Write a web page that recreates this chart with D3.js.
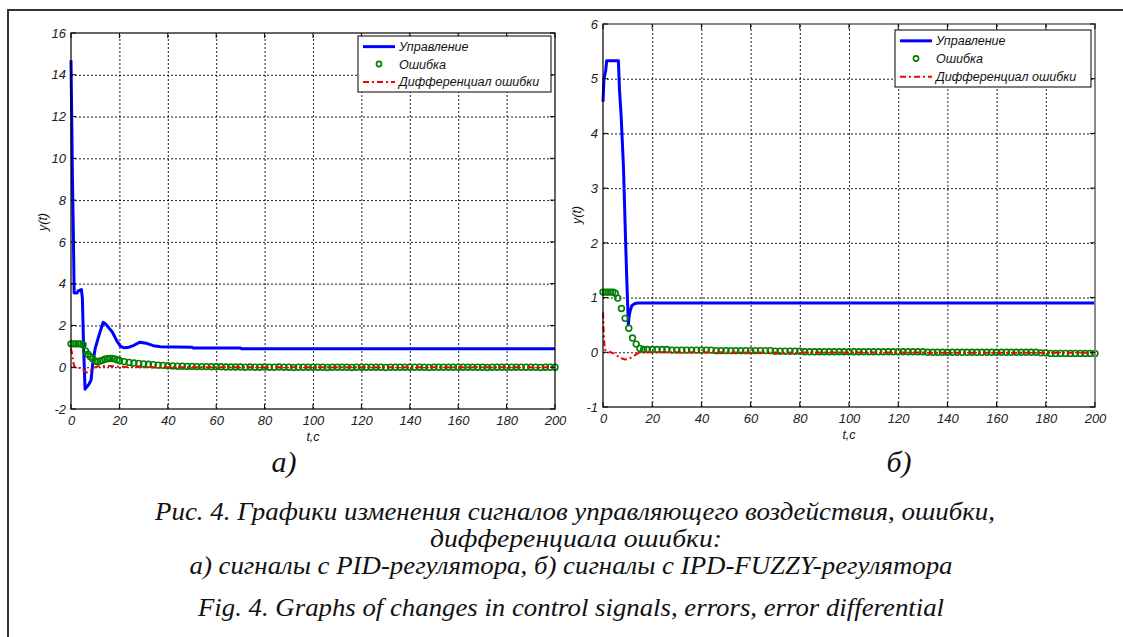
<!DOCTYPE html>
<html lang="ru">
<head>
<meta charset="UTF-8">
<title>Рис. 4</title>
<script src="https://d3js.org/d3.v7.min.js"></script>
<style>
  body { margin: 0; background: #fff; }
  svg { display: block; }
  .tick text { font-family: "Liberation Sans", Arial, sans-serif; font-style: italic; font-size: 13px; fill: #222; }
  .grid line { stroke: #000; stroke-width: 0.9; stroke-dasharray: 2,2; }
  .grid path { display: none; }
  .leg text, .ylab, .xlab { font-family: "Liberation Sans", Arial, sans-serif; font-style: italic; font-size: 12.5px; fill: #111; }
  .cap { font-family: "Liberation Serif", "Times New Roman", serif; font-style: italic; fill: #111; }
</style>
</head>
<body>
<script>
// ---- data ----
var xTicks = [0, 20, 40, 60, 80, 100, 120, 140, 160, 180, 200];
var pidYTicks = [-2, 0, 2, 4, 6, 8, 10, 12, 14, 16];
var fuzYTicks = [-1, 0, 1, 2, 3, 4, 5, 6];
var legendNames = ["Управление", "Ошибка", "Дифференциал ошибки"];

// а) PID
var pidCtrlT = [0, 0.3, 0.6, 1.0, 1.3, 2.5, 3, 4.3, 4.7, 5.2, 5.8, 6.5, 7.5, 8.3, 9, 10, 11.5, 13.3, 14.5, 15.5, 17, 19, 20.5, 22, 24, 26, 28.5, 31, 34, 37, 50, 50.5, 70, 70.5, 200];
var pidCtrl  = [14.7, 12, 9, 6.2, 3.55, 3.55, 3.65, 3.72, 3.3, 1.0, -1.05, -0.95, -0.8, -0.6, 0.2, 0.9, 1.5, 2.15, 2.05, 1.9, 1.7, 1.25, 1.0, 0.93, 0.96, 1.05, 1.2, 1.15, 1.03, 0.98, 0.96, 0.92, 0.92, 0.88, 0.88];

var pidErrT = [0, 1, 2, 3, 4, 5, 6, 7, 8, 9, 10, 11, 12, 13, 14, 15, 16, 17, 18, 19, 20,
  22, 24, 26, 28, 30, 32, 34, 36, 38, 40, 42, 44, 46, 48, 50, 52, 54, 56, 58, 60,
  62, 64, 66, 68, 70, 72, 74, 76, 78, 80, 82, 84, 86, 88, 90, 92, 94, 96, 98, 100,
  102, 104, 106, 108, 110, 112, 114, 116, 118, 120, 122, 124, 126, 128, 130, 132, 134, 136, 138, 140,
  142, 144, 146, 148, 150, 152, 154, 156, 158, 160, 162, 164, 166, 168, 170, 172, 174, 176, 178, 180,
  182, 184, 186, 188, 190, 192, 194, 196, 198, 200];
var pidErr = [1.12, 1.12, 1.12, 1.12, 1.12, 1.08, 0.78, 0.62, 0.5, 0.4, 0.3, 0.26, 0.3, 0.33, 0.38, 0.41, 0.42, 0.42, 0.4, 0.36, 0.32,
  0.27, 0.23, 0.2, 0.18, 0.16, 0.14, 0.12, 0.1, 0.09, 0.07, 0.06, 0.05, 0.05, 0.04, 0.04, 0.03, 0.03, 0.03, 0.02, 0.02,
  0.02, 0.01, 0.01, 0.01, 0.01, 0.0, 0.01, 0.0, 0.0, 0.01, 0.0, 0.0, 0.01, 0.0, 0.0, -0.01, 0.0, 0.0, 0.0, 0.0,
  0.0, 0.0, -0.01, 0.0, 0.0, 0.0, 0.0, -0.01, 0.0, 0.0, 0.0, 0.0, 0.0, 0.0, -0.01, 0.0, 0.0, 0.0, 0.0, 0.0,
  0.0, 0.0, 0.0, -0.01, 0.0, 0.0, 0.0, 0.0, 0.0, 0.0, 0.0, 0.0, 0.0, 0.0, 0.0, -0.01, 0.0, 0.0, 0.0, 0.0,
  0.0, 0.0, 0.0, 0.0, 0.0, 0.0, -0.01, 0.0, 0.0, 0.0];

var pidDiffT = [0, 0.5, 1, 1.5, 3, 4.5, 5.5, 6.5, 7.5, 8.5, 9.5, 10.5, 12, 14, 16, 18, 20, 25, 30, 40, 200];
var pidDiff  = [0.9, 0.6, 0.2, 0.0, -0.02, -0.05, -0.18, -0.25, -0.22, -0.12, -0.02, 0.02, 0.05, 0.06, 0.06, 0.04, 0.02, 0.01, 0.0, 0.0, 0.0];

// б) IPD-FUZZY
var fuzCtrlT = [0, 0.4, 1.1, 1.5, 6.25, 6.7, 7.4, 7.7, 8.3, 8.7, 9.2, 9.7, 10.3, 10.6, 11, 11.7, 13, 14.3, 200];
var fuzCtrl  = [4.58, 5.0, 5.15, 5.33, 5.33, 4.8, 4.3, 4.0, 3.4, 2.8, 2.0, 1.3, 0.5, 0.65, 0.75, 0.85, 0.89, 0.9, 0.9];

var fuzErrT = [0, 1, 2, 3, 4, 5, 6, 7.5, 9, 10.5, 12, 13.5, 15, 16.5, 18, 20,
  22, 24, 26, 28, 30, 32, 34, 36, 38, 40, 42, 44, 46, 48, 50, 52, 54, 56, 58, 60,
  62, 64, 66, 68, 70, 72, 74, 76, 78, 80, 82, 84, 86, 88, 90, 92, 94, 96, 98, 100,
  102, 104, 106, 108, 110, 112, 114, 116, 118, 120, 122, 124, 126, 128, 130, 132, 134, 136, 138, 140,
  142, 144, 146, 148, 150, 152, 154, 156, 158, 160, 162, 164, 166, 168, 170, 172, 174, 176, 178, 180,
  182, 184, 186, 188, 190, 192, 194, 196, 198, 200];
var fuzErr = [1.1, 1.1, 1.1, 1.1, 1.1, 1.08, 0.99, 0.8, 0.62, 0.44, 0.26, 0.15, 0.07, 0.05, 0.05, 0.05,
  0.05, 0.05, 0.05, 0.04, 0.04, 0.04, 0.04, 0.04, 0.04, 0.04, 0.04, 0.04, 0.03, 0.03, 0.03, 0.03, 0.03, 0.03, 0.03, 0.03,
  0.03, 0.03, 0.03, 0.03, 0.02, 0.02, 0.02, 0.02, 0.02, 0.02, 0.01, 0.01, 0.01, 0.01, 0.01, 0.01, 0.01, 0.01, 0.01, 0.01,
  0.01, 0.01, 0.01, 0.01, 0.01, 0.01, 0.01, 0.01, 0.01, 0.01, 0.01, 0.01, 0.01, 0.01, 0.01, 0.0, 0.0, 0.0, 0.0, 0.0,
  0.0, 0.0, 0.0, 0.0, 0.0, 0.0, 0.0, 0.0, 0.0, 0.0, 0.0, 0.0, 0.0, 0.0, 0.0, 0.0, 0.0, 0.0, -0.01, -0.01,
  -0.02, -0.02, -0.02, -0.02, -0.02, -0.02, -0.02, -0.02, -0.02, -0.02];

var fuzDiffT = [0, 0.3, 0.7, 1.5, 3, 4.5, 6, 7.5, 9, 10.5, 12, 13.5, 15, 20, 200];
var fuzDiff  = [0.73, 0.35, 0.05, 0.02, 0.0, -0.02, -0.07, -0.11, -0.13, -0.12, -0.08, -0.04, 0.0, 0.0, -0.01];

var captionLines = [
  "Рис. 4. Графики изменения сигналов управляющего воздействия, ошибки,",
  "дифференциала ошибки:",
  "а) сигналы с PID-регулятора, б) сигналы с IPD-FUZZY-регулятора",
  "Fig. 4. Graphs of changes in control signals, errors, error differential"
];

// ---- drawing ----
var W = 1123, H = 637;
var svg = d3.select("body").append("svg").attr("width", W).attr("height", H);

// page frame
svg.append("path").attr("d", "M8," + H + "V10H" + W)
  .attr("fill", "none").attr("stroke", "#333").attr("stroke-width", 2);

function zip(t, v) { return t.map(function (d, i) { return [d, v[i]]; }); }

function panel(o) {
  var x = d3.scaleLinear().domain([0, 200]).range([o.left, o.right]);
  var y = d3.scaleLinear().domain(o.yDomain).range([o.bottom, o.top]);
  var g = svg.append("g");

  // grid
  g.append("g").attr("class", "grid")
    .attr("transform", "translate(0," + o.bottom + ")")
    .call(d3.axisBottom(x).tickValues(xTicks.slice(1, -1)).tickSize(-(o.bottom - o.top)).tickFormat(""));
  g.append("g").attr("class", "grid")
    .attr("transform", "translate(" + o.left + ",0)")
    .call(d3.axisLeft(y).tickValues(o.yTicks.slice(1, -1)).tickSize(-(o.right - o.left)).tickFormat(""));

  // curves
  var line = d3.line().x(function (d) { return x(d[0]); }).y(function (d) { return y(d[1]); });
  g.append("path").datum(zip(o.ctrlT, o.ctrl)).attr("d", line)
    .attr("fill", "none").attr("stroke", "#0000ff").attr("stroke-width", 3).attr("stroke-linejoin", "round");
  g.append("g").selectAll("circle").data(zip(o.errT, o.err)).join("circle")
    .attr("cx", function (d) { return x(d[0]); }).attr("cy", function (d) { return y(d[1]); })
    .attr("r", 2.9).attr("fill", "none").attr("stroke", "#008000").attr("stroke-width", 1.6);
  g.append("path").datum(zip(o.diffT, o.diff)).attr("d", line)
    .attr("fill", "none").attr("stroke", "#ff0000").attr("stroke-width", 2).attr("stroke-dasharray", "6,3,2,3");

  // frame and inward ticks
  g.append("rect").attr("x", o.left).attr("y", o.top)
    .attr("width", o.right - o.left).attr("height", o.bottom - o.top)
    .attr("fill", "none").attr("stroke", "#000").attr("stroke-width", 1.2);
  if (o.grayTop) {
    g.append("path").attr("d", "M" + o.left + "," + o.top + "H" + o.right + "V" + o.bottom)
      .attr("fill", "none").attr("stroke", "#888").attr("stroke-width", 2);
  }
  var xa = g.append("g").attr("transform", "translate(0," + o.bottom + ")")
    .call(d3.axisBottom(x).tickValues(xTicks).tickSize(0).tickPadding(7).tickFormat(function (d) { return String(d); }));
  xa.select(".domain").remove();
  var ya = g.append("g").attr("transform", "translate(" + o.left + ",0)")
    .call(d3.axisLeft(y).tickValues(o.yTicks).tickSize(0).tickPadding(5).tickFormat(function (d) { return String(d); }));
  ya.select(".domain").remove();
  xTicks.forEach(function (t) {
    g.append("line").attr("x1", x(t)).attr("x2", x(t)).attr("y1", o.bottom).attr("y2", o.bottom - 5).attr("stroke", "#000");
    g.append("line").attr("x1", x(t)).attr("x2", x(t)).attr("y1", o.top).attr("y2", o.top + 5).attr("stroke", "#000");
  });
  o.yTicks.forEach(function (t) {
    g.append("line").attr("x1", o.left).attr("x2", o.left + 5).attr("y1", y(t)).attr("y2", y(t)).attr("stroke", "#000");
    g.append("line").attr("x1", o.right).attr("x2", o.right - 5).attr("y1", y(t)).attr("y2", y(t)).attr("stroke", "#000");
  });

  // axis titles
  g.append("text").attr("class", "xlab").attr("x", (o.left + o.right) / 2).attr("y", o.bottom + 32)
    .attr("text-anchor", "middle").text("t,c");
  g.append("text").attr("class", "ylab")
    .attr("transform", "translate(" + o.ylabX + "," + o.ylabY + ") rotate(-90)")
    .attr("text-anchor", "middle").text("y(t)");

  // legend
  var L = o.legend;
  var lg = g.append("g").attr("class", "leg");
  lg.append("rect").attr("x", L.x).attr("y", L.y).attr("width", L.w).attr("height", L.h)
    .attr("fill", "#fff").attr("stroke", "#000").attr("stroke-width", 1);
  var rows = [L.y + L.h * 0.19, L.y + L.h * 0.5, L.y + L.h * 0.82];
  lg.append("line").attr("x1", L.x + 5).attr("x2", L.x + 37).attr("y1", rows[0]).attr("y2", rows[0])
    .attr("stroke", "#0000ff").attr("stroke-width", 3);
  lg.append("circle").attr("cx", L.x + 21).attr("cy", rows[1]).attr("r", 2.6)
    .attr("fill", "none").attr("stroke", "#008000").attr("stroke-width", 1.6);
  lg.append("line").attr("x1", L.x + 5).attr("x2", L.x + 37).attr("y1", rows[2]).attr("y2", rows[2])
    .attr("stroke", "#ff0000").attr("stroke-width", 2).attr("stroke-dasharray", "6,3,2,3");
  legendNames.forEach(function (n, i) {
    lg.append("text").attr("x", L.x + 41).attr("y", rows[i] + 4.5).text(n);
  });

  svg.append("text").attr("class", "cap").attr("x", o.tagX).attr("y", 472)
    .attr("text-anchor", "middle").attr("font-size", 30).text(o.tag);
}

panel({
  left: 71, right: 555, top: 33, bottom: 409, yDomain: [-2, 16], yTicks: pidYTicks,
  ctrlT: pidCtrlT, ctrl: pidCtrl, errT: pidErrT, err: pidErr, diffT: pidDiffT, diff: pidDiff,
  ylabX: 47, ylabY: 222, legend: { x: 358, y: 36, w: 193, h: 56 }, tag: "а)", tagX: 284
});
panel({
  left: 603, right: 1095, top: 24, bottom: 407, yDomain: [-1, 6], yTicks: fuzYTicks, grayTop: true,
  ctrlT: fuzCtrlT, ctrl: fuzCtrl, errT: fuzErrT, err: fuzErr, diffT: fuzDiffT, diff: fuzDiff,
  ylabX: 581, ylabY: 215, legend: { x: 895, y: 30, w: 196, h: 57 }, tag: "б)", tagX: 899
});

// caption
var capY = [520, 547, 574, 616];
var capW = [840, 292, 763, 746];
var capX = [575, 576, 571, 571];
captionLines.forEach(function (s, i) {
  svg.append("text").attr("class", "cap").attr("x", capX[i]).attr("y", capY[i])
    .attr("text-anchor", "middle").attr("font-size", 25)
    .attr("textLength", capW[i]).attr("lengthAdjust", "spacingAndGlyphs").text(s);
});
</script>
</body>
</html>
